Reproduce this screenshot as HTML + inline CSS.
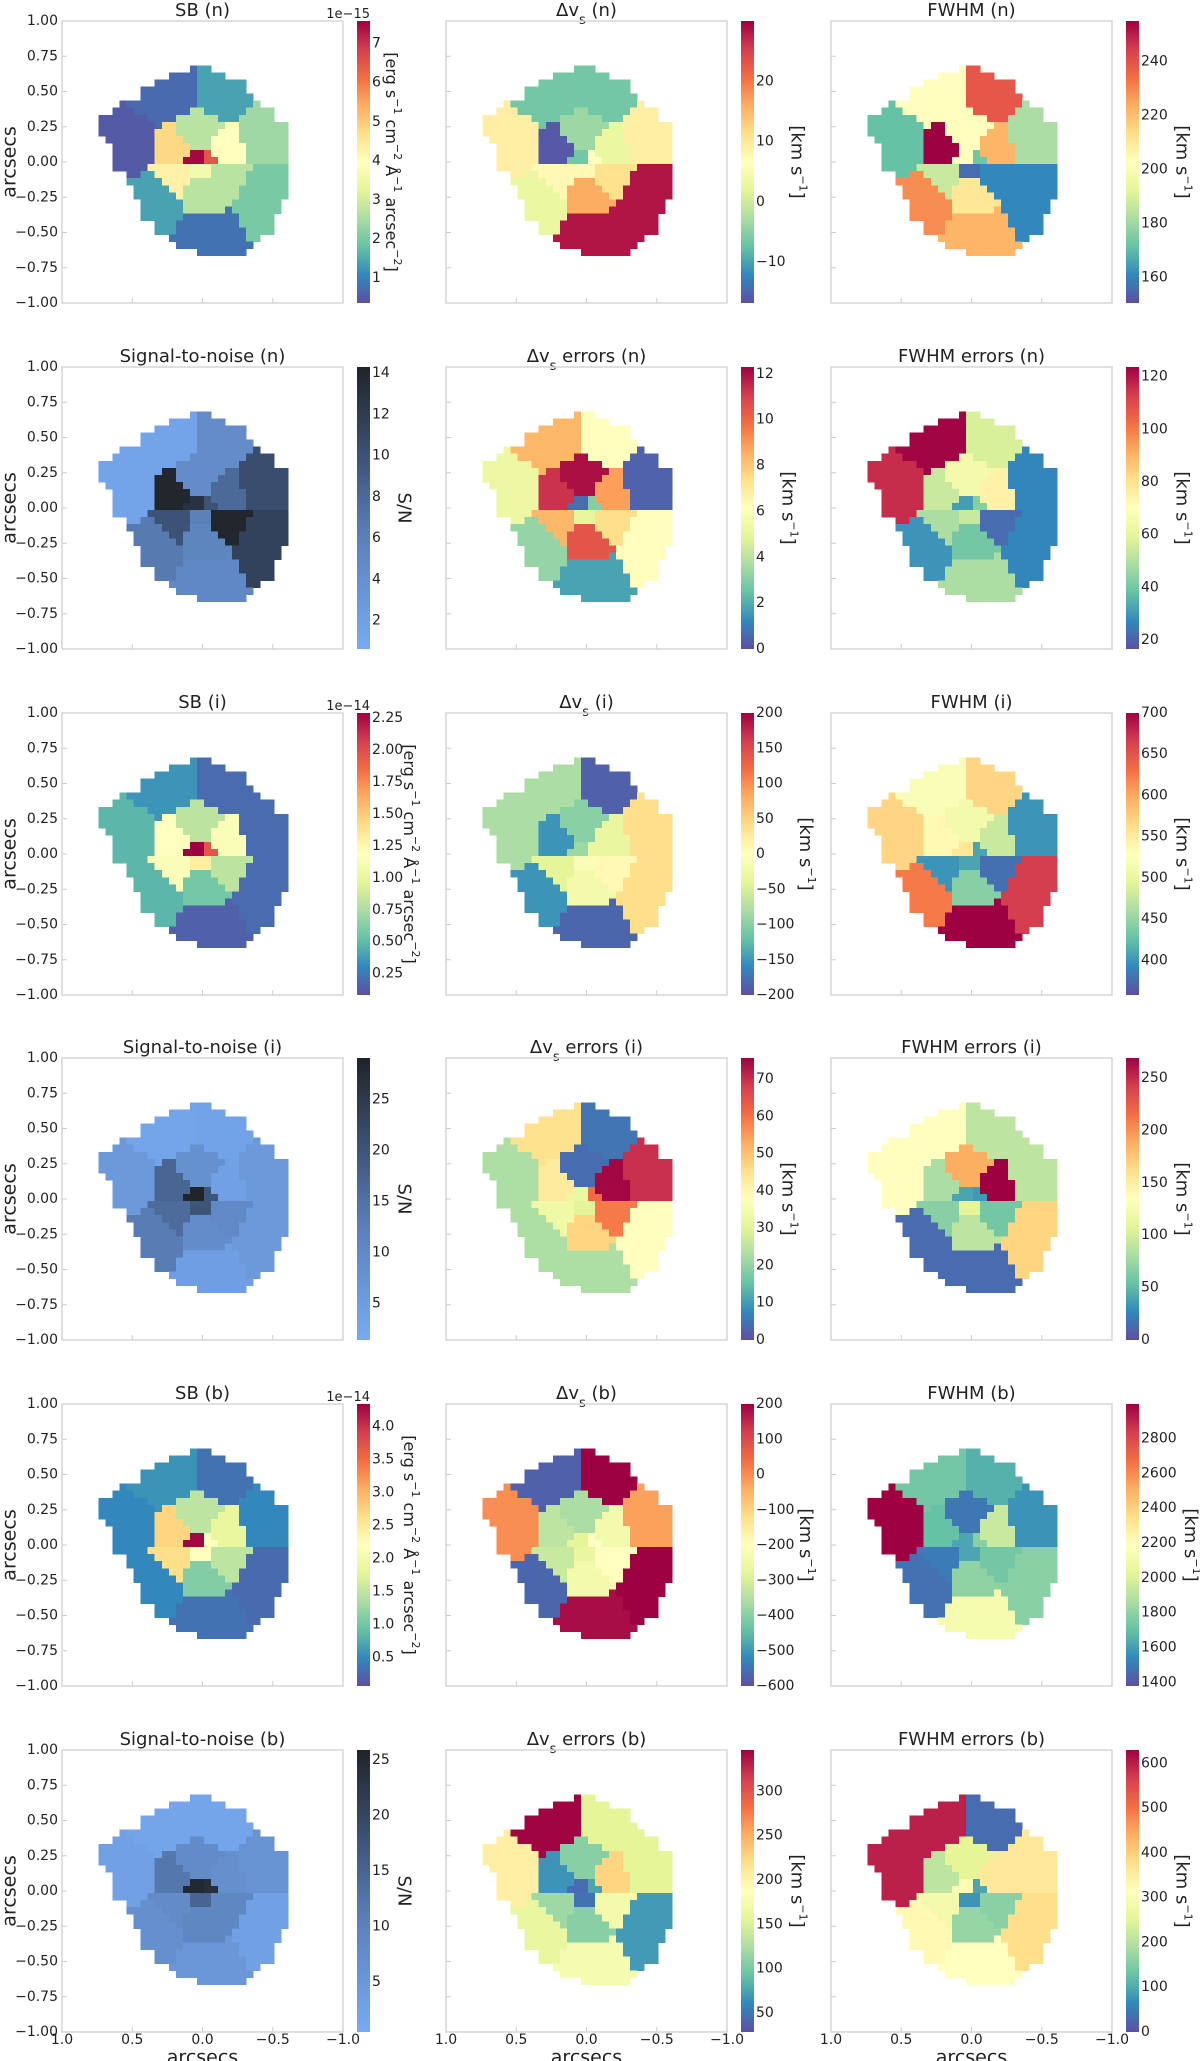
<!DOCTYPE html>
<html><head><meta charset="utf-8"><style>
html,body{margin:0;padding:0;background:#fff;}
svg{display:block;font-family:"DejaVu Sans","Liberation Sans",sans-serif;}
</style></head><body>
<svg id="fig" width="1200" height="2061" viewBox="0 0 1200 2061" xmlns="http://www.w3.org/2000/svg"></svg>
<script>
// Voronoi bin seeds (arcsec): 0 TL,1 TR,2 L,3 R,4 RL,5 LL,6 B,7 M1,8 M2,9 M3,10 M4,11 M5,12 M6,13 C1,14 C2,15 C3
const seedX = [0.25,-0.15,0.55,-0.45,-0.45,0.35,-0.02,0.03,0.15,-0.12,0.15,-0.12,0.0,0.05,-0.03,0.02];
const seedY = [0.5,0.5,0.1,0.2,-0.25,-0.3,-0.52,0.17,0.07,0.07,-0.08,-0.08,-0.18,0.02,0.02,-0.05];

const valsSBn   = [0.7,1.4,0.5,2.4,2.0,1.4,0.8,2.7,4.8,4.0,4.3,2.7,2.7,7.5,6.5,3.6];
const valsDVn   = [-6.5,-6.5,9,9,28.5,3,28.5,-3.7,-16,3,7.5,11,16,-6.5,6.6,7.5];
const valsFWn   = [203,239,171.5,182,161,229,222,203,255,222,187,161,211,203,173,156];
const valsSNn   = [1.5,4.5,1.5,10.5,11.5,6.5,5,4.5,14,8,10,14,5.5,13,10,6];
const valsDVEn  = [8.4,6.2,5.3,0.4,6.2,3.3,1.8,12,11.3,8.9,8.4,7.4,10.5,0.6,3,5];
const valsFWEn  = [123,57,116,27,27,29.5,49,65,54,75,49,22,40,31,43,54];
const valsSBi   = [0.35,0.19,0.48,0.19,0.19,0.48,0.15,0.81,1.19,1.14,1.14,0.81,0.57,2.29,1.96,1.3];
const valsDVi   = [-80,-188,-80,40,40,-152,-184,-100,-152,-32,-40,8,-20,-88,-32,-8];
const valsFWi   = [522,570,570,399,666,625,700,512,536,478,399,378,443,556,409,409];
const valsSNi   = [3,3.5,6,6,6,13,4.5,8,17,4,16,10,9,29,20,20];
const valsDVEi  = [45,5,23,70,38,23,23,4,43,75,33,59,47,32,61,30];
const valsFWEi  = [135,89,135,89,167,13,13,188,81,269,67,59,89,40,35,108];
const valsSBb   = [0.58,0.33,0.5,0.5,0.28,0.5,0.33,1.48,2.72,1.86,2.63,1.48,1.1,4.3,2.2,2.2];
const valsDVb   = [-576,200,0,-24,200,-568,184,-360,-336,-240,-320,-200,-240,-280,-200,-264];
const valsFWb   = [1735,1654,2998,1573,1784,1476,2124,1492,1703,1946,1508,1735,1800,1622,1784,1622];
const valsSNb   = [2,2,3,6,3,7,5,8,12,7,8,9,9,25,24,15];
const valsDVEb  = [345,156,204,156,70,162,175,108,67,226,118,172,108,45,76,48];
const valsFWEb  = [598,32,598,359,378,328,315,252,208,359,284,158,170,302,95,76];

const panelVals = [valsSBn,valsDVn,valsFWn,valsSNn,valsDVEn,valsFWEn,valsSBi,valsDVi,valsFWi,valsSNi,valsDVEi,valsFWEi,valsSBb,valsDVb,valsFWb,valsSNb,valsDVEb,valsFWEb];
const vmins = [0.36,-16.8,150.6,0.63,0,16.6,0.083,-200,358,1.4,0,0,0.07,-600,1379,0.5,28.6,0];
const vmaxs = [7.58,30,255,14.3,12.3,123.7,2.29,200,700,29.1,75.7,269,4.34,200,2998,25.9,346.6,630];
const tickLists = [
 ["1","2","3","4","5","6","7"],["-10","0","10","20"],["160","180","200","220","240"],
 ["2","4","6","8","10","12","14"],["0","2","4","6","8","10","12"],["20","40","60","80","100","120"],
 ["0.25","0.50","0.75","1.00","1.25","1.50","1.75","2.00","2.25"],["-200","-150","-100","-50","0","50","100","150","200"],["400","450","500","550","600","650","700"],
 ["5","10","15","20","25"],["0","10","20","30","40","50","60","70"],["0","50","100","150","200","250"],
 ["0.5","1.0","1.5","2.0","2.5","3.0","3.5","4.0"],["-600","-500","-400","-300","-200","-100","0","100","200"],["1400","1600","1800","2000","2200","2400","2600","2800"],
 ["5","10","15","20","25"],["50","100","150","200","250","300"],["0","100","200","300","400","500","600"]
];
const panelKinds = ["sb","dv","fw","sn","dve","fwe","sb","dv","fw","sn","dve","fwe","sb","dv","fw","sn","dve","fwe"];
const comps = ["n","i","b"];
const offsets = ["1e\u221215","1e\u221214","1e\u221214"];
const yTickLabels = ["1.00","0.75","0.50","0.25","0.00","\u22120.25","\u22120.50","\u22120.75","\u22121.00"];
const xTickLabels = ["1.0","0.5","0.0","\u22120.5","\u22121.0"];

const foot = [[0.09,-0.06],[0.24,-0.16],[0.34,-0.31],[0.44,-0.31],[0.44,-0.36],[0.59,-0.41],[0.64,-0.51],[0.74,-0.51],[0.74,-0.61],[0.74,-0.61],[0.69,-0.61],[0.64,-0.61],[0.64,-0.61],[0.64,-0.61],[0.64,-0.61],[0.54,-0.61],[0.54,-0.61],[0.49,-0.61],[0.49,-0.61],[0.44,-0.56],[0.44,-0.56],[0.44,-0.51],[0.34,-0.51],[0.34,-0.51],[0.24,-0.41],[0.19,-0.36],[0.04,-0.31]];

const NS="http://www.w3.org/2000/svg";
const svg=document.getElementById('fig');
const W=281,H=282;
const colX=[62,446,831];
const rowY=[21,367,713,1058,1404,1750];
const spec=["#5e4fa2","#3288bd","#66c2a5","#abdda4","#e6f598","#ffffbf","#fee08b","#fdae61","#f46d43","#d53e4f","#9e0142"];
const snStops=[[0,"#78aaf2"],[0.4,"#5a80b8"],[0.7,"#3b5074"],[1,"#202428"]];
function hex(c){return [parseInt(c.substr(1,2),16),parseInt(c.substr(3,2),16),parseInt(c.substr(5,2),16)];}
function mix(a,b,t){const A=hex(a),B=hex(b);return "rgb("+A.map((v,i)=>Math.round(v+(B[i]-v)*t)).join(",")+")";}
function cSpec(f){f=Math.max(0,Math.min(1,f));const p=f*10,i=Math.min(9,Math.floor(p));return mix(spec[i],spec[i+1],p-i);}
function cSN(f){f=Math.max(0,Math.min(1,f));for(let i=0;i<snStops.length-1;i++){const a=snStops[i],b=snStops[i+1];if(f<=b[0])return mix(a[1],b[1],(f-a[0])/(b[0]-a[0]));}return snStops[3][1];}
function el(tag,attrs,parent){const e=document.createElementNS(NS,tag);for(const k in attrs)e.setAttribute(k,attrs[k]);(parent||svg).appendChild(e);return e;}

const defs=el('defs',{});
const gS=el('linearGradient',{id:'gspec',x1:0,y1:1,x2:0,y2:0},defs);
spec.forEach((c,i)=>el('stop',{offset:i/10,'stop-color':c},gS));
const gN=el('linearGradient',{id:'gsn',x1:0,y1:1,x2:0,y2:0},defs);
snStops.forEach(s=>el('stop',{offset:s[0],'stop-color':s[1]},gN));

function addTitle(g,kind,comp,cx,y){
  const t=el('text',{x:cx,y:y,'text-anchor':'middle','font-size':18,fill:'#222'},g);
  
  
  const base={sb:"SB",fw:"FWHM",sn:"Signal-to-noise",fwe:"FWHM errors"};
  if(kind==='dv'||kind==='dve'){
    const a=el('tspan',{},t);a.textContent="\u0394v";
    const b=el('tspan',{'baseline-shift':'sub','font-size':13},t);b.textContent="s";
    const c=el('tspan',{'baseline-shift':'0'},t);c.textContent=(kind==='dve'?" errors":"")+" ("+comp+")";
  } else { t.textContent=base[kind]+" ("+comp+")"; }
}
function addLabel(g,kind,x,cy){
  const t=el('text',{x:0,y:0,'text-anchor':'middle','dominant-baseline':'middle','font-size':kind==='sb'?16:18,fill:'#222',transform:`translate(${x},${cy}) rotate(90)`},g);
  
  
  const parts = kind==='sn' ? [["S/N",0]] : kind==='sb' ? [["[erg s",0],["\u22121",1],[" cm",0],["\u22122",1],[" \u00c5",0],["\u22121",1],[" arcsec",0],["\u22122",1],["]",0]] : [["[km s",0],["\u22121",1],["]",0]];
  parts.forEach(p=>{const s=el('tspan',p[1]?{'baseline-shift':'super','font-size':11}:{},t);s.textContent=p[0];});
}

for(let p=0;p<18;p++){
  const r=Math.floor(p/3), c=p%3;
  const bx=colX[c], by=rowY[r];
  const kind=panelKinds[p], comp=comps[Math.floor(r/2)];
  const vals=panelVals[p], vmin=vmins[p], vmax=vmaxs[p];
  const cm = kind==='sn'?cSN:cSpec;
  const g=el('g',{});
  
  
  addTitle(g,kind,comp,bx+W/2,by-5);
  const mg=el('g',{'shape-rendering':'crispEdges'},g);
  
  
  const cs=0.05*W/2;
  for(let k=0;k<foot.length;k++){
    const yc=0.66-0.05*k;
    for(let j=0;j<30;j++){
      const xc=0.715-0.05*j;
      if(xc>foot[k][0]||xc<foot[k][1])continue;
      let best=0,bd=1e9;
      for(let s=0;s<seedX.length;s++){const d=(xc-seedX[s])**2+(yc-seedY[s])**2;if(d<bd){bd=d;best=s;}}
      const f=(vals[best]-vmin)/(vmax-vmin);
      const px=bx+(1-(xc+0.025))/2*W, py=by+(1-(yc+0.025))/2*H;
      const rc=el('rect',{x:px.toFixed(2),y:py.toFixed(2),width:(cs+0.4).toFixed(2),height:(cs+0.4).toFixed(2),fill:cm(f)},mg);
      
      
    }
  }
  const box=el('rect',{x:bx,y:by,width:W,height:H,fill:'none',stroke:'#d6d6d6','stroke-width':1.5},g);
  
  
  [0.5,0,-0.5].forEach(v=>{const x=bx+(1-v)/2*W;el('line',{x1:x,y1:by+H,x2:x,y2:by+H-5,stroke:'#ccc','stroke-width':1},g);});
  for(let i=1;i<8;i++){const y=by+i*H/8;el('line',{x1:bx,y1:y,x2:bx+5,y2:y,stroke:'#ccc','stroke-width':1},g);}
  if(c===0){
    yTickLabels.forEach((lab,i)=>{const t=el('text',{x:bx-4,y:by+i*H/8,'text-anchor':'end','dominant-baseline':'middle','font-size':14,fill:'#222'},g);t.textContent=lab;});
    const yl=el('text',{x:0,y:0,'text-anchor':'middle','dominant-baseline':'middle','font-size':19,fill:'#222',transform:`translate(10,${by+H/2}) rotate(-90)`},g);
    yl.textContent="arcsecs";
    
    
  }
  if(r===5){
    xTickLabels.forEach((lab,i)=>{const t=el('text',{x:bx+i*W/4,y:by+H+8,'text-anchor':'middle','dominant-baseline':'middle','font-size':14,fill:'#222'},g);t.textContent=lab;});
    const xl=el('text',{x:bx+W/2,y:by+H+26,'text-anchor':'middle','dominant-baseline':'middle','font-size':19,fill:'#222'},g);
    xl.textContent="arcsecs";
    
    
  }
  const cbx=bx+W+14;
  const cb=el('rect',{x:cbx,y:by,width:13,height:H,fill:kind==='sn'?'url(#gsn)':'url(#gspec)'},g);
  
  
  let maxLen=0;
  tickLists[p].forEach(lab=>{
    const v=parseFloat(lab);
    maxLen=Math.max(maxLen,lab.length);
    const y=by+H*(1-(v-vmin)/(vmax-vmin));
    const t=el('text',{x:cbx+15,y:y,'dominant-baseline':'middle','font-size':14,fill:'#222'},g);
    t.textContent=lab.replace('-','\u2212');
    
    
  });
  if(kind==='sb'){
    const o=el('text',{x:cbx+13,y:by-3,'text-anchor':'end','font-size':13,fill:'#222'},g);
    o.textContent=offsets[Math.floor(r/2)];
    
    
  }
  const lx = kind==='sb' ? (r===0?cbx+34:cbx+52) : cbx+15+maxLen*8.8+14;
  addLabel(g,kind,lx,by+H/2);
}
</script>
</body></html>
